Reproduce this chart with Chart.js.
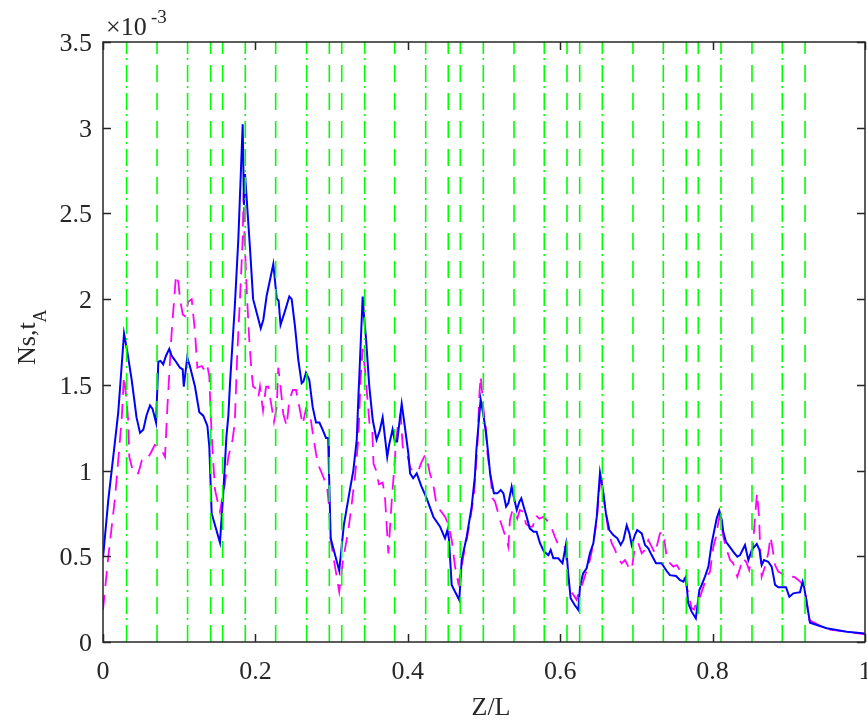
<!DOCTYPE html>
<html>
<head>
<meta charset="utf-8">
<script src="https://cdn.jsdelivr.net/npm/chart.js@4.4.1/dist/chart.umd.min.js"></script>
<style>
  body { margin: 0; background: #fff; }
  canvas { display: block; }
</style>
</head>
<body>
<canvas id="myChart" width="867" height="723"></canvas>
<script>
// values of the y axis are in units of 1e-3 (shown as x10^-3 on the plot)
const yMax = 3.5;

// blue solid curve
const blueX = [0, 0.007, 0.016, 0.02, 0.0276, 0.032, 0.0376, 0.044, 0.0486, 0.053, 0.057, 0.0617, 0.065, 0.0696,
  0.0726, 0.0755, 0.079, 0.0827, 0.087, 0.09, 0.0958, 0.101, 0.1046, 0.106, 0.1106, 0.114, 0.1207, 0.1264, 0.1316,
  0.137, 0.1395, 0.1426, 0.1535, 0.158, 0.162, 0.1645, 0.1667, 0.173, 0.1776, 0.1833, 0.185, 0.1864, 0.193, 0.197,
  0.2017, 0.207, 0.2104, 0.2148, 0.2235, 0.228, 0.2305, 0.233, 0.2388, 0.2445, 0.2476, 0.252, 0.2563, 0.2607, 0.263,
  0.2664, 0.2707, 0.2752, 0.2795, 0.284, 0.288, 0.2927, 0.2955, 0.2965, 0.2988, 0.31, 0.316, 0.324, 0.3285, 0.333,
  0.335, 0.3408, 0.3425, 0.345, 0.3495, 0.354, 0.359, 0.363, 0.367, 0.373, 0.3755, 0.38, 0.383, 0.386, 0.392, 0.396,
  0.4007, 0.403, 0.407, 0.4117, 0.418, 0.4248, 0.4335, 0.4423, 0.4488, 0.452, 0.454, 0.4576, 0.462, 0.4676, 0.4707,
  0.4773, 0.4838, 0.488, 0.49, 0.4956, 0.499, 0.5026, 0.5055, 0.508, 0.513, 0.5175, 0.522, 0.5255, 0.529, 0.532,
  0.5363, 0.5385, 0.543, 0.5465, 0.549, 0.552, 0.556, 0.56, 0.565, 0.569, 0.5735, 0.5787, 0.5845, 0.5875, 0.591,
  0.5975, 0.603, 0.6076, 0.6105, 0.6137, 0.619, 0.6238, 0.626, 0.63, 0.6347, 0.639, 0.6435, 0.648, 0.6522, 0.656,
  0.66, 0.6645, 0.6697, 0.675, 0.6794, 0.683, 0.6873, 0.6908, 0.6938, 0.698, 0.701, 0.707, 0.7113, 0.7156, 0.72,
  0.7257, 0.733, 0.7397, 0.744, 0.752, 0.757, 0.7615, 0.765, 0.768, 0.7725, 0.778, 0.7826, 0.7857, 0.79, 0.7945,
  0.7988, 0.8054, 0.8088, 0.812, 0.814, 0.8176, 0.823, 0.827, 0.8324, 0.836, 0.8425, 0.8469, 0.8514, 0.858, 0.8615,
  0.8644, 0.8675, 0.873, 0.8775, 0.882, 0.8863, 0.8906, 0.8963, 0.9007, 0.906, 0.9112, 0.9147, 0.9182, 0.92, 0.9278,
  0.9497, 0.976, 1.0];
const blueY = [0.49, 0.83, 1.18, 1.34, 1.80, 1.69, 1.53, 1.31, 1.22, 1.24, 1.32, 1.38, 1.36, 1.28,
  1.635, 1.64, 1.62, 1.67, 1.71, 1.67, 1.635, 1.60, 1.59, 1.49, 1.66, 1.61, 1.49, 1.34, 1.32,
  1.26, 1.14, 0.75, 0.58, 0.88, 1.20, 1.32, 1.51, 1.96, 2.35, 3.02, 2.55, 2.73, 2.29, 2.0,
  1.92, 1.83, 1.88, 2.02, 2.205, 2.005, 1.99, 1.85, 1.93, 2.015, 2.0, 1.84, 1.645, 1.51, 1.52,
  1.57, 1.53, 1.37, 1.28, 1.28, 1.24, 1.19, 1.19, 1.0, 0.605, 0.416, 0.68, 0.887, 1.0, 1.18,
  1.41, 2.015, 1.90, 1.78, 1.49, 1.295, 1.18, 1.23, 1.31, 1.08, 1.15, 1.24, 1.17, 1.17, 1.39, 1.26,
  1.10, 0.984, 0.955, 0.984, 0.906, 0.838, 0.731, 0.673, 0.605, 0.653, 0.60, 0.333, 0.293, 0.245, 0.478,
  0.614, 0.79, 0.964, 1.12, 1.415, 1.33, 1.22, 1.10, 0.984, 0.867, 0.867, 0.887, 0.867, 0.79, 0.81,
  0.906, 0.857, 0.77, 0.818, 0.838, 0.79, 0.731, 0.663, 0.643, 0.643, 0.576, 0.527, 0.507, 0.537, 0.488,
  0.488, 0.459, 0.57, 0.40, 0.255, 0.216, 0.187, 0.323, 0.40, 0.43, 0.517, 0.576, 0.731, 0.988, 0.887,
  0.75, 0.653, 0.624, 0.605, 0.566, 0.595, 0.68, 0.634, 0.566, 0.624, 0.653, 0.634, 0.566, 0.547, 0.507,
  0.459, 0.46, 0.414, 0.39, 0.385, 0.362, 0.352, 0.381, 0.226, 0.177, 0.138, 0.303, 0.333, 0.381, 0.44,
  0.576, 0.722, 0.766, 0.712, 0.643, 0.585, 0.552, 0.527, 0.498, 0.507, 0.566, 0.478, 0.537, 0.572, 0.537,
  0.449, 0.478, 0.468, 0.44, 0.333, 0.319, 0.32, 0.32, 0.264, 0.284, 0.288, 0.29, 0.352, 0.323, 0.113,
  0.08, 0.06, 0.05];

// magenta dashed curve
const magX = [0, 0.007, 0.0157, 0.02, 0.0245, 0.0275, 0.031, 0.033, 0.0345, 0.04, 0.0463, 0.051, 0.057, 0.0635,
  0.068, 0.077, 0.0814, 0.0845, 0.09, 0.0958, 0.0988, 0.101, 0.1046, 0.1076, 0.112, 0.1164, 0.1207, 0.1238, 0.1296,
  0.134, 0.137, 0.1395, 0.1413, 0.144, 0.147, 0.1535, 0.16, 0.1645, 0.17, 0.173, 0.176, 0.1807, 0.1833, 0.1845,
  0.1855, 0.1864, 0.189, 0.192, 0.195, 0.197, 0.2, 0.204, 0.206, 0.21, 0.214, 0.217, 0.2214, 0.2244, 0.228, 0.23,
  0.233, 0.2366, 0.241, 0.2445, 0.249, 0.2533, 0.2577, 0.262, 0.2664, 0.2717, 0.2752, 0.2795, 0.282, 0.289, 0.294,
  0.2967, 0.2988, 0.3045, 0.31, 0.315, 0.322, 0.326, 0.3307, 0.335, 0.338, 0.3408, 0.3438, 0.3468, 0.35, 0.3535,
  0.355, 0.3585, 0.362, 0.367, 0.37, 0.3745, 0.379, 0.381, 0.3845, 0.3875, 0.3907, 0.3933, 0.396, 0.399, 0.403,
  0.407, 0.414, 0.418, 0.4226, 0.4255, 0.429, 0.4335, 0.437, 0.4423, 0.4488, 0.453, 0.4576, 0.462, 0.4663, 0.4695,
  0.4728, 0.478, 0.4825, 0.487, 0.49, 0.4913, 0.494, 0.4956, 0.4973, 0.499, 0.5026, 0.5045, 0.508, 0.5114, 0.5145,
  0.5175, 0.521, 0.5253, 0.5298, 0.532, 0.534, 0.5375, 0.5407, 0.5437, 0.547, 0.5515, 0.555, 0.5595, 0.564, 0.568,
  0.5725, 0.5778, 0.582, 0.5875, 0.593, 0.5975, 0.602, 0.6063, 0.6094, 0.6116, 0.616, 0.6217, 0.6251, 0.6295, 0.6348,
  0.639, 0.6435, 0.648, 0.6522, 0.6545, 0.6588, 0.663, 0.6676, 0.672, 0.6763, 0.6807, 0.685, 0.6894, 0.6938, 0.698,
  0.7025, 0.707, 0.7113, 0.7156, 0.72, 0.7244, 0.731, 0.7353, 0.7397, 0.744, 0.7485, 0.753, 0.7595, 0.764, 0.768,
  0.7726, 0.7757, 0.78, 0.7835, 0.788, 0.7923, 0.7966, 0.801, 0.8045, 0.8088, 0.812, 0.8141, 0.8185, 0.823, 0.827,
  0.8324, 0.836, 0.8395, 0.844, 0.848, 0.8526, 0.855, 0.8583, 0.861, 0.8625, 0.8644, 0.8688, 0.873, 0.876, 0.8789,
  0.882, 0.8863, 0.8907, 0.8963, 0.9025, 0.907, 0.9125, 0.917, 0.9226, 0.927, 0.9497, 0.976, 1.0];
const magY = [0.187, 0.50, 0.838, 1.06, 1.30, 1.55, 1.41, 1.295, 1.08, 0.984, 0.984, 1.06, 1.06, 1.11,
  1.15, 1.12, 1.08, 1.37, 1.80, 2.14, 2.10, 2.005, 1.91, 1.90, 1.985, 2.0, 1.81, 1.60, 1.61,
  1.58, 1.61, 1.55, 1.33, 1.10, 0.887, 0.76, 0.926, 1.08, 1.18, 1.28, 1.66, 2.09, 2.35, 2.62,
  2.39, 2.29, 2.015, 1.76, 1.57, 1.49, 1.48, 1.43, 1.49, 1.35, 1.49, 1.49, 1.37, 1.285, 1.37, 1.60,
  1.49, 1.33, 1.26, 1.41, 1.47, 1.47, 1.37, 1.27, 1.36, 1.33, 1.22, 1.10, 1.04, 0.964, 0.906,
  0.79, 0.595, 0.44, 0.293, 0.478, 0.653, 0.79, 0.964, 1.18, 1.53, 1.71, 1.59, 1.43, 1.26, 1.22,
  1.04, 1.0, 0.92, 0.93, 0.85, 0.517, 0.83, 0.945, 1.16, 1.285, 1.33, 1.14, 1.11, 1.10, 1.02,
  0.993, 1.0, 1.05, 1.09, 1.06, 0.984, 0.916, 0.818, 0.77, 0.731, 0.69, 0.595, 0.44, 0.342, 0.40,
  0.498, 0.614, 0.731, 0.867, 1.06, 1.14, 1.45, 1.55, 1.47, 1.37, 1.24, 1.10, 0.984, 0.838, 0.818,
  0.77, 0.712, 0.653, 0.595, 0.556, 0.712, 0.77, 0.75, 0.72, 0.77, 0.76, 0.69, 0.673, 0.673, 0.74,
  0.72, 0.73, 0.712, 0.68, 0.614, 0.566, 0.547, 0.556, 0.43, 0.323, 0.284, 0.245, 0.303, 0.342, 0.42,
  0.478, 0.576, 0.712, 0.926, 0.945, 0.79, 0.653, 0.576, 0.537, 0.488, 0.459, 0.478, 0.44, 0.42, 0.556,
  0.576, 0.517, 0.537, 0.595, 0.556, 0.517, 0.634, 0.64, 0.498, 0.46, 0.44, 0.449, 0.40, 0.362, 0.284,
  0.197, 0.19, 0.245, 0.264, 0.323, 0.381, 0.41, 0.556, 0.614, 0.731, 0.673, 0.614, 0.537, 0.478, 0.459,
  0.381, 0.43, 0.488, 0.468, 0.42, 0.537, 0.69, 0.867, 0.73, 0.537, 0.381, 0.44, 0.517, 0.614, 0.537,
  0.449, 0.41, 0.40, 0.385, 0.381, 0.38, 0.362, 0.342, 0.264, 0.128, 0.074, 0.06, 0.045];

// green vertical marker lines
const greenX = [0.031, 0.0709, 0.111, 0.1413, 0.157, 0.1867, 0.2266, 0.2673, 0.297, 0.3133, 0.3434, 0.3828,
  0.4235, 0.4531, 0.4689, 0.4991, 0.5394, 0.5791, 0.6089, 0.6256, 0.6553, 0.6955, 0.7353, 0.7655, 0.7812,
  0.811, 0.8517, 0.8915, 0.9213];
const greenStyle = ['dd', 'd', 'dd', 'd', 'd', 'dd', 'd', 'dd', 'd', 'd', 'dd', 'd',
  'dd', 'd', 'd', 'dd', 'd', 'dd', 'd', 'd', 'dd', 'd', 'dd', 'd', 'd',
  'dd', 'd', 'dd', 'd'];

const xTicks = [0, 0.2, 0.4, 0.6, 0.8, 1];
const yTicks = [0, 0.5, 1, 1.5, 2, 2.5, 3, 3.5];

const axisColor = '#262626';
const serif = '"Liberation Serif", "Times New Roman", serif';

function pts(xs, ys) {
  return xs.map((x, i) => ({ x: x, y: ys[i] }));
}

const datasets = [];
greenX.forEach((gx, i) => {
  datasets.push({
    data: [{ x: gx, y: 0 }, { x: gx, y: yMax }],
    borderColor: '#00ff00',
    borderWidth: 1.6,
    borderDash: greenStyle[i] === 'dd' ? [17, 5, 2, 4] : [17, 11],
    pointRadius: 0
  });
});
datasets.push({
  data: pts(blueX, blueY),
  borderColor: '#0000ff',
  borderWidth: 2,
  pointRadius: 0
});
datasets.push({
  data: pts(magX, magY),
  borderColor: '#ff00ff',
  borderWidth: 1.8,
  borderDash: [15, 9],
  pointRadius: 0
});

// box, inward ticks, tick labels, exponent and axis labels
const frame = {
  id: 'frame',
  afterDraw(chart) {
    const ctx = chart.ctx;
    const a = chart.chartArea;
    const xs = chart.scales.x, ys = chart.scales.y;
    ctx.save();
    ctx.strokeStyle = axisColor;
    ctx.lineWidth = 1.5;
    ctx.strokeRect(a.left, a.top, a.right - a.left, a.bottom - a.top);
    ctx.beginPath();
    xTicks.forEach(v => {
      const p = Math.round(xs.getPixelForValue(v)) + 0.5;
      ctx.moveTo(p, a.bottom); ctx.lineTo(p, a.bottom - 8);
      ctx.moveTo(p, a.top); ctx.lineTo(p, a.top + 8);
    });
    yTicks.forEach(v => {
      const p = Math.round(ys.getPixelForValue(v)) + 0.5;
      ctx.moveTo(a.left, p); ctx.lineTo(a.left + 8, p);
      ctx.moveTo(a.right, p); ctx.lineTo(a.right - 8, p);
    });
    ctx.stroke();

    ctx.fillStyle = axisColor;
    ctx.textBaseline = 'alphabetic';
    ctx.font = '26px ' + serif;

    // tick labels
    ctx.textAlign = 'center';
    xTicks.forEach(v => ctx.fillText(String(v), xs.getPixelForValue(v), a.bottom + 37));
    ctx.textAlign = 'right';
    yTicks.forEach(v => ctx.fillText(String(v), a.left - 11, ys.getPixelForValue(v) + 9));

    // exponent
    ctx.textAlign = 'left';
    ctx.fillText('\u00d710', 106, 35);
    ctx.font = '19px ' + serif;
    ctx.fillText('-3', 151, 23);

    // x label
    ctx.font = '26px ' + serif;
    ctx.textAlign = 'center';
    ctx.fillText('Z/L', 491, 715);

    // y label with subscript
    ctx.translate(35, 365);
    ctx.rotate(-Math.PI / 2);
    ctx.textAlign = 'left';
    ctx.fillText('Ns,t', 0, 0);
    const w = ctx.measureText('Ns,t').width;
    ctx.font = '18px ' + serif;
    ctx.fillText('A', w, 11);
    ctx.restore();
  }
};

const config = {
  type: 'line',
  data: { datasets: datasets },
  options: {
    responsive: false,
    animation: false,
    events: [],
    layout: { padding: { top: 42, right: 2, left: 0, bottom: 0 } },
    plugins: { legend: { display: false }, tooltip: { enabled: false } },
    elements: { line: { tension: 0 } },
    scales: {
      x: {
        type: 'linear',
        min: 0,
        max: 1,
        grid: { display: false, drawTicks: false },
        border: { display: false },
        ticks: { display: false },
        afterFit(s) { s.height = 81; s.paddingLeft = 0; s.paddingRight = 0; },
        afterBuildTicks(s) { s.ticks = xTicks.map(v => ({ value: v })); }
      },
      y: {
        type: 'linear',
        min: 0,
        max: yMax,
        grid: { display: false, drawTicks: false },
        border: { display: false },
        ticks: { display: false },
        afterFit(s) { s.width = 103; s.paddingTop = 0; s.paddingBottom = 0; },
        afterBuildTicks(s) { s.ticks = yTicks.map(v => ({ value: v })); }
      }
    }
  },
  plugins: [frame]
};

var myChart = new Chart(document.getElementById('myChart'), config);
</script>
</body>
</html>
